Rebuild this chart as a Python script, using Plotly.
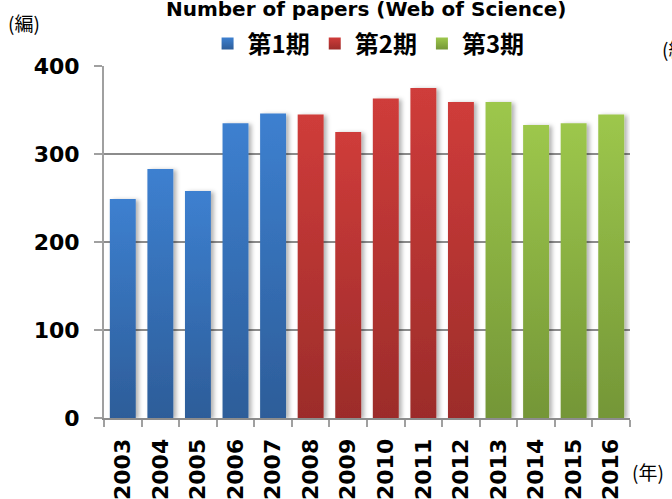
import json
import plotly.graph_objects as go

years = [str(y) for y in range(2003, 2017)]
papers = [249, 283, 258, 335, 346, 345, 325, 363, 375, 359, 359, 333, 335, 345]
periods = ["第1期", "第2期", "第3期"]
period_slices = [(0, 5), (5, 10), (10, 14)]
period_colors = ["#3571b8", "#bb3735", "#8cb143"]
# top / bottom colours of the vertical gradient on each period's bars
gradient_colors = [["#3d80d0", "#2d5d99"], ["#cf3c3a", "#9c2c2a"], ["#9dc74c", "#749637"]]
y_ticks = [0, 100, 200, 300, 400]

fig = go.Figure()
for name, (a, b), col in zip(periods, period_slices, period_colors):
    fig.add_trace(go.Bar(x=years[a:b], y=papers[a:b], name=name,
                         marker=dict(color=col, line=dict(width=0))))

fig.update_layout(
    width=672, height=499,
    margin=dict(l=104, r=42, t=66, b=81),
    plot_bgcolor="white", paper_bgcolor="white",
    barmode="overlay", bargap=0.31,
    font=dict(family="DejaVu Sans", color="black"),
    title=dict(text="<b>Number of papers (Web of Science)</b>", x=0.545, xanchor="center",
               y=0.982, yanchor="middle", font=dict(size=20, family="DejaVu Sans", color="black"),
               automargin=False),
    legend=dict(orientation="h", x=0.503, xanchor="center", y=1.0625, yanchor="middle",
                font=dict(size=24, family="Noto Sans CJK JP", color="black", weight="bold"),
                itemwidth=30, traceorder="normal", tracegroupgap=0),
    showlegend=True,
)
fig.update_yaxes(range=[0, 400], tickvals=y_ticks, showgrid=True, gridcolor="#8c8c8c", gridwidth=2,
                 showline=True, linecolor="#a0a0a0", linewidth=2, ticks="outside", ticklen=8,
                 tickcolor="#a0a0a0", tickwidth=2, ticklabelstandoff=10, automargin=False,
                 tickfont=dict(size=22, family="DejaVu Sans", weight="bold", color="black"),
                 zeroline=False)
fig.update_xaxes(type="category", categoryorder="array", categoryarray=years,
                 showline=True, linecolor="#8c8c8c", linewidth=2, ticks="outside", ticklen=7,
                 tickcolor="#a0a0a0", tickwidth=2, tickson="boundaries", tickangle=-90,
                 ticklabelstandoff=10, automargin=False,
                 tickfont=dict(size=22, family="DejaVu Sans", weight="bold", color="black"))

fig.add_annotation(text="(編)", xref="paper", yref="paper", x=-0.186, y=1.125, showarrow=False,
                   xanchor="left", yanchor="middle", font=dict(size=19, family="Noto Sans CJK JP"))
fig.add_annotation(text="(編)", xref="paper", yref="paper", x=1.057, y=1.051, showarrow=False,
                   xanchor="left", yanchor="middle", font=dict(size=19, family="Noto Sans CJK JP"))
fig.add_annotation(text="(年)", xref="paper", yref="paper", x=1.0, y=-0.151, showarrow=False,
                   xanchor="left", yanchor="middle", font=dict(size=19, family="Noto Sans CJK JP"))

post_js = """
document.body.style.margin='0';document.body.style.overflow='hidden';
(function(){
var cols=%s;
var gd=document.querySelector('.plotly-graph-div');
var svg=gd.querySelector('svg.main-svg');
var ns='http://www.w3.org/2000/svg';
var defs=svg.querySelector('defs');
if(!defs){defs=document.createElementNS(ns,'defs');svg.insertBefore(defs,svg.firstChild);}
cols.forEach(function(c,i){
  var g=document.createElementNS(ns,'linearGradient');
  g.setAttribute('id','bargrad'+i);g.setAttribute('x1','0');g.setAttribute('y1','0');
  g.setAttribute('x2','0');g.setAttribute('y2','1');
  [['0',c[0]],['1',c[1]]].forEach(function(s){var st=document.createElementNS(ns,'stop');
    st.setAttribute('offset',s[0]);st.setAttribute('stop-color',s[1]);g.appendChild(st);});
  defs.appendChild(g);
});
var f=document.createElementNS(ns,'filter');
f.setAttribute('id','barshadow');f.setAttribute('x','-20%%');f.setAttribute('y','-5%%');
f.setAttribute('width','150%%');f.setAttribute('height','110%%');
var ds=document.createElementNS(ns,'feDropShadow');
ds.setAttribute('dx','3');ds.setAttribute('dy','1');ds.setAttribute('stdDeviation','2');
ds.setAttribute('flood-color','#000');ds.setAttribute('flood-opacity','0.3');
f.appendChild(ds);defs.appendChild(f);
gd.querySelectorAll('g.trace.bars').forEach(function(t,i){
  t.querySelectorAll('path').forEach(function(p){p.style.fill='url(#bargrad'+i+')';
    p.setAttribute('filter','url(#barshadow)');});
});
gd.querySelectorAll('g.legend g.traces').forEach(function(t,i){
  t.querySelectorAll('g.legendpoints path').forEach(function(p){p.style.fill='url(#bargrad'+i+')';});
});
})();
""" % json.dumps(gradient_colors)

fig.write_html("out.html", config={"displayModeBar": False}, post_script=post_js)
